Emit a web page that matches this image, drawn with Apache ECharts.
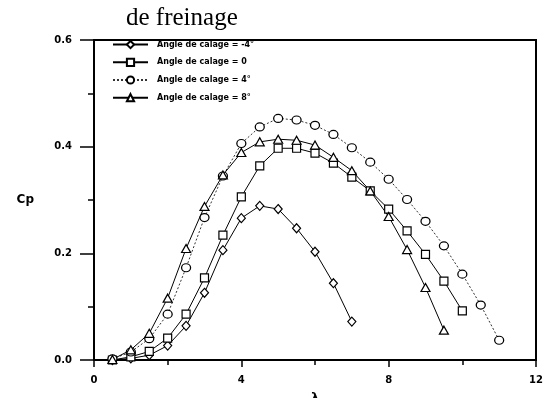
<!DOCTYPE html>
<html>
<head>
<meta charset="utf-8">
<script src="https://cdn.jsdelivr.net/npm/echarts@6/dist/echarts.min.js"></script>
<style>
  html, body { margin: 0; padding: 0; background: #fff; }
  #chart { width: 548px; height: 398px; }
</style>
</head>
<body>
<div id="chart"></div>
<script>
// Power coefficient Cp versus tip speed ratio λ for four pitch (calage) angles
const lambdaM4 = [0.5, 1.0, 1.5, 2.0, 2.5, 3.0, 3.5, 4.0, 4.5, 5.0, 5.5, 6.0, 6.5, 7.0];
const cpM4     = [0.000, 0.003, 0.009, 0.027, 0.064, 0.126, 0.206, 0.266, 0.289, 0.283, 0.247, 0.203, 0.144, 0.072];

const lambda0 = [0.5, 1.0, 1.5, 2.0, 2.5, 3.0, 3.5, 4.0, 4.5, 5.0, 5.5, 6.0, 6.5, 7.0, 7.5, 8.0, 8.5, 9.0, 9.5, 10.0];
const cp0     = [0.000, 0.006, 0.016, 0.041, 0.086, 0.154, 0.234, 0.306, 0.364, 0.397, 0.397, 0.388, 0.369, 0.343, 0.317, 0.283, 0.242, 0.198, 0.148, 0.092];

const lambda4 = [0.5, 1.0, 1.5, 2.0, 2.5, 3.0, 3.5, 4.0, 4.5, 5.0, 5.5, 6.0, 6.5, 7.0, 7.5, 8.0, 8.5, 9.0, 9.5, 10.0, 10.5, 11.0];
const cp4     = [0.002, 0.015, 0.040, 0.086, 0.173, 0.267, 0.345, 0.406, 0.437, 0.453, 0.450, 0.440, 0.423, 0.398, 0.371, 0.339, 0.301, 0.260, 0.214, 0.161, 0.103, 0.037];

const lambda8 = [0.5, 1.0, 1.5, 2.0, 2.5, 3.0, 3.5, 4.0, 4.5, 5.0, 5.5, 6.0, 6.5, 7.0, 7.5, 8.0, 8.5, 9.0, 9.5];
const cp8     = [0.001, 0.019, 0.050, 0.116, 0.209, 0.288, 0.347, 0.389, 0.409, 0.414, 0.412, 0.403, 0.380, 0.355, 0.317, 0.269, 0.207, 0.136, 0.056];

const seriesNames = ['Angle de calage = -4°', 'Angle de calage = 0', 'Angle de calage = 4°', 'Angle de calage = 8°'];
const xTicks = [0, 4, 8, 12];
const yTicks = [0.0, 0.2, 0.4, 0.6];
const titleText = 'de freinage';
const xName = 'λ';
const yName = 'Cp';

const zip = (xs, ys) => xs.map((x, i) => [x, ys[i]]);

const markerStyle = { color: '#fff', borderColor: '#000', borderWidth: 1.2 };

function makeSeries(name, xs, ys, symbol, size, lineStyle) {
  return {
    name: name,
    type: 'line',
    data: zip(xs, ys),
    symbol: symbol,
    symbolSize: size,
    showAllSymbol: true,
    lineStyle: lineStyle,
    itemStyle: markerStyle,
    z: 3
  };
}

const tickFont = { fontFamily: 'DejaVu Sans', fontWeight: 'bold', fontSize: 10, color: '#000' };

const chart = echarts.init(document.getElementById('chart'), null, { renderer: 'canvas' });
chart.setOption({
  animation: false,
  backgroundColor: '#fff',
  title: {
    text: titleText,
    left: 126,
    top: 4,
    padding: [2, 0, 0, 0],
    textStyle: { fontFamily: 'Liberation Serif', fontWeight: 'normal', fontSize: 25, color: '#000' }
  },
  legend: {
    orient: 'vertical',
    left: 112,
    top: 40,
    padding: 0,
    itemWidth: 35,
    itemHeight: 9,
    itemGap: 8.5,
    data: seriesNames,
    textStyle: { fontFamily: 'DejaVu Sans', fontWeight: 'bold', fontSize: 8, color: '#000', padding: [0, 0, 0, 4] }
  },
  grid: {
    left: 94, right: 12, top: 40, bottom: 38,
    outerBoundsMode: 'none',
    containLabel: false,
    show: true, borderColor: '#000', borderWidth: 2, backgroundColor: 'transparent'
  },
  xAxis: {
    type: 'value',
    min: 0, max: 12, interval: 4,
    name: xName,
    nameLocation: 'middle',
    nameGap: 32,
    nameTextStyle: { fontFamily: 'DejaVu Sans', fontWeight: 'bold', fontSize: 12, color: '#000' },
    axisLine: { show: true, onZero: false, lineStyle: { color: '#000', width: 2 } },
    axisTick: { show: true, length: 7, lineStyle: { color: '#000', width: 1.5 } },
    minorTick: { show: true, splitNumber: 2, length: 5, lineStyle: { color: '#000', width: 1.5 } },
    splitLine: { show: false },
    axisLabel: Object.assign({ margin: 15, formatter: v => xTicks.includes(v) ? String(v) : '' }, tickFont)
  },
  yAxis: {
    type: 'value',
    min: 0, max: 0.6, interval: 0.2,
    name: yName,
    nameLocation: 'middle',
    nameRotate: 0,
    nameGap: 60,
    nameTextStyle: { fontFamily: 'DejaVu Sans', fontWeight: 'bold', fontSize: 12, color: '#000' },
    axisLine: { show: true, onZero: false, lineStyle: { color: '#000', width: 2 } },
    axisTick: { show: true, length: 14, lineStyle: { color: '#000', width: 1.5 } },
    minorTick: { show: true, splitNumber: 2, length: 6, lineStyle: { color: '#000', width: 1.5 } },
    splitLine: { show: false },
    axisLabel: Object.assign({ margin: 22, formatter: v => {
      const t = yTicks.find(k => Math.abs(k - v) < 1e-9);
      return t === undefined ? '' : t.toFixed(1);
    } }, tickFont)
  },
  series: [
    makeSeries(seriesNames[0], lambdaM4, cpM4, 'diamond', [8, 9], { color: '#000', width: 1 }),
    makeSeries(seriesNames[1], lambda0, cp0, 'rect', 8, { color: '#000', width: 1 }),
    makeSeries(seriesNames[2], lambda4, cp4, 'circle', [9, 8], { color: '#333', width: 1, type: [2, 2] }),
    makeSeries(seriesNames[3], lambda8, cp8, 'triangle', [9, 8], { color: '#000', width: 1 })
  ]
});
</script>
</body>
</html>
